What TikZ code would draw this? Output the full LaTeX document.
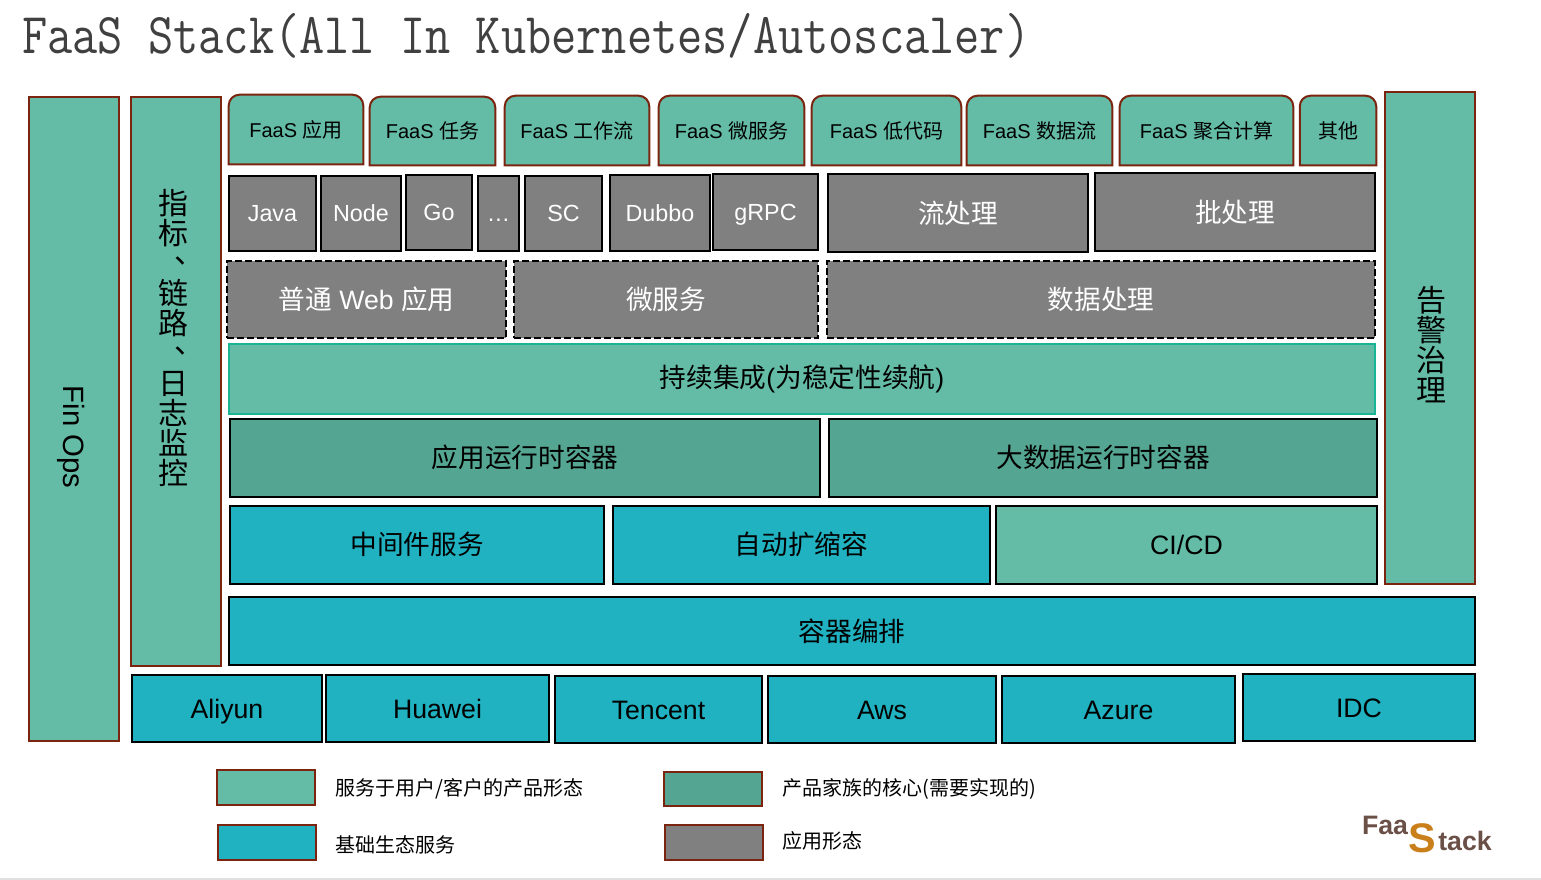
\documentclass[tikz,border=0pt]{standalone}
\usepackage{fontspec}
\setmainfont{Liberation Sans}
\newfontfamily\cjk{Noto Sans CJK SC}
\usetikzlibrary{backgrounds}
\definecolor{svcgreen}{HTML}{64BCA6}
\definecolor{coregreen}{HTML}{54A591}
\definecolor{infrablue}{HTML}{20B2C1}
\definecolor{appgray}{HTML}{808080}
\definecolor{edgebrown}{HTML}{7B2510}
\definecolor{edgeteal}{HTML}{1AB394}
\definecolor{titlegray}{HTML}{404040}
\definecolor{logobrown}{HTML}{6B5048}
\definecolor{logoorange}{HTML}{C9801A}
\newcommand{\dunhao}{\makebox[1em][c]{\raisebox{.37em}[0pt][0pt]{\hspace{1.1em}、}}}
\tikzset{
    x=0.75pt, y=-0.75pt,
    wh/.style 2 args={minimum width=(#1-2)*0.75pt, minimum height=(#2-2)*0.75pt},
    block/.style={draw, line width=1.5pt, inner sep=0pt},
    sidebox/.style={block, draw=edgebrown, fill=svcgreen},
    tabtext/.style={inner sep=0pt, font=\fontsize{15}{15}\selectfont},
    tabshape/.style={draw=edgebrown, line width=1.5pt, fill=svcgreen, rounded corners=8pt},
    lang/.style={block, fill=appgray, text=white, text height=16.1pt, text depth=3.5pt, font=\fontsize{17.5}{18}\selectfont},
    scene/.style={block, dash pattern=on 5pt off 2.5pt, fill=appgray, text=white, font=\fontsize{20}{20}\selectfont},
    runtime/.style={block, fill=coregreen, font=\fontsize{20}{20}\selectfont},
    infra/.style={block, fill=infrablue, font=\fontsize{20}{20}\selectfont},
    cloud/.style={infra, text height=18.4pt, text depth=4pt},
    legendbox/.style={block, draw=edgebrown},
    legendtext/.style={anchor=west, inner sep=0pt, font=\fontsize{15}{15}\selectfont\cjk},
    logotext/.style={inner sep=0pt, font=\fontsize{20}{20}\selectfont\bfseries, text=logobrown}
}
\begin{document}
\begin{tikzpicture}
    \useasboundingbox (0,0) rectangle (1541,880);
    \fill[black!12] (0,878) rectangle (1541,880);

    % Titolo
    \node[anchor=west, inner sep=0pt, text=titlegray, yscale=1.18, transform shape, font=\fontsize{36.7}{37}\selectfont\ttfamily] (title) at (22,36) {FaaS Stack(All In Kubernetes/Autoscaler)};

    % Colonne laterali
    \node[sidebox, wh={92}{646}] (finops) at (74,419) {};
    \node[rotate=-90, font=\fontsize{22}{22}\selectfont] (finopstext) at (71,437) {Fin Ops};
    \node[sidebox, wh={92}{571}] (monitor) at (176,381.5) {};
    \node[align=center, inner sep=0pt, font=\fontsize{22.5}{22.5}\selectfont\cjk] (monitortext) at (173,338) {指\\标\\\dunhao\\链\\路\\\dunhao\\日\\志\\监\\控};
    \node[sidebox, wh={92}{494}] (alert) at (1430,338) {};
    \node[align=center, inner sep=0pt, font=\fontsize{22.5}{22.5}\selectfont\cjk] (alerttext) at (1431,345) {告\\警\\治\\理};

    % Forme di prodotto
    \node[tabtext, wh={136}{71}] (tabapp) at (296,129.5) {FaaS {\cjk 应用}};
    \node[tabtext, wh={127}{70}] (tabjob) at (432.5,131) {FaaS {\cjk 任务}};
    \node[tabtext, wh={146}{71}] (tabflow) at (577,130.5) {FaaS {\cjk 工作流}};
    \node[tabtext, wh={147}{71}] (tabmicro) at (731.5,130.5) {FaaS {\cjk 微服务}};
    \node[tabtext, wh={151}{71}] (tabcode) at (886.5,130.5) {FaaS {\cjk 低代码}};
    \node[tabtext, wh={147}{71}] (tabdata) at (1039.5,130.5) {FaaS {\cjk 数据流}};
    \node[tabtext, wh={175}{71}] (tabcalc) at (1206.5,130.5) {FaaS {\cjk 聚合计算}};
    \node[tabtext, wh={78}{71}] (tabother) at (1338,130.5) {\cjk 其他};
    \begin{scope}[on background layer]
        \foreach \n in {tabapp,tabjob,tabflow,tabmicro,tabcode,tabdata,tabcalc,tabother}
            \draw[tabshape] (\n.south west) -- (\n.north west) -- (\n.north east) [sharp corners] -- (\n.south east) -- cycle;
    \end{scope}

    % Linguaggi e framework
    \node[lang, wh={89}{77}] (java) at (272.5,213.5) {Java};
    \node[lang, wh={82}{77}] (nodejs) at (361,213.5) {Node};
    \node[lang, wh={68}{77}] (golang) at (439,212.5) {Go};
    \node[lang, wh={43}{77}] (more) at (498.5,213.5) {…};
    \node[lang, wh={79}{77}] (sc) at (563.5,213.5) {SC};
    \node[lang, wh={102}{78}] (dubbo) at (660,213) {Dubbo};
    \node[lang, wh={107}{78}] (grpc) at (765.5,212) {gRPC};
    \node[block, fill=appgray, text=white, wh={262}{80}, font=\fontsize{20}{20}\selectfont\cjk] (stream) at (958,213) {流处理};
    \node[block, fill=appgray, text=white, wh={282}{80}, font=\fontsize{20}{20}\selectfont\cjk] (batch) at (1235,212) {批处理};

    % Scenari
    \node[scene, wh={281}{79}] (webapp) at (366.5,299.5) {{\cjk 普通} Web {\cjk 应用}};
    \node[scene, wh={306}{79}, font=\fontsize{20}{20}\selectfont\cjk] (microsvc) at (666,299.5) {微服务};
    \node[scene, wh={550}{79}, font=\fontsize{20}{20}\selectfont\cjk] (dataproc) at (1101,299.5) {数据处理};

    % Integrazione continua
    \node[block, draw=edgeteal, fill=svcgreen, wh={1148}{71}, font=\fontsize{20}{20}\selectfont] (ci) at (802,379) {{\cjk 持续集成}({\cjk 为稳定性续航})};

    % Container di runtime
    \node[runtime, wh={592}{80}, font=\fontsize{20}{20}\selectfont\cjk] (apprt) at (525,457.5) {应用运行时容器};
    \node[runtime, wh={550}{80}, font=\fontsize{20}{20}\selectfont\cjk] (bigdatart) at (1103,457.5) {大数据运行时容器};

    % Servizi di base
    \node[infra, wh={376}{80}, font=\fontsize{20}{20}\selectfont\cjk] (middleware) at (417,544.5) {中间件服务};
    \node[infra, wh={379}{80}, font=\fontsize{20}{20}\selectfont\cjk] (autoscale) at (801.5,544.5) {自动扩缩容};
    \node[block, fill=svcgreen, wh={383}{80}, font=\fontsize{20}{20}\selectfont] (cicd) at (1186.5,544.5) {CI/CD};
    \node[infra, wh={1248}{70}, font=\fontsize{20}{20}\selectfont\cjk] (orchestr) at (852,631) {容器编排};

    % Cloud
    \node[cloud, wh={192}{69}] (aliyun) at (227,708.5) {Aliyun};
    \node[cloud, wh={225}{69}] (huawei) at (437.5,708.5) {Huawei};
    \node[cloud, wh={209}{69}] (tencent) at (658.5,709.5) {Tencent};
    \node[cloud, wh={230}{69}] (aws) at (882,709.5) {Aws};
    \node[cloud, wh={235}{69}] (azure) at (1118.5,709.5) {Azure};
    \node[cloud, wh={234}{69}] (idc) at (1359,707.5) {IDC};

    % Legenda
    \node[legendbox, fill=svcgreen, wh={100}{37}] (keysvc) at (266,787.5) {};
    \node[legendtext] (keysvctext) at (335,789) {服务于用户/客户的产品形态};
    \node[legendbox, fill=coregreen, wh={100}{36}] (keycore) at (713,789) {};
    \node[legendtext] (keycoretext) at (782,789) {产品家族的核心(需要实现的)};
    \node[legendbox, fill=infrablue, wh={100}{37}] (keyinfra) at (267,842.5) {};
    \node[legendtext] (keyinfratext) at (335,845) {基础生态服务};
    \node[legendbox, fill=appgray, wh={100}{37}] (keyapp) at (714,842.5) {};
    \node[legendtext] (keyapptext) at (782,841) {应用形态};

    % Logo
    \node[logotext] (logofaa) at (1385,825) {Faa};
    \node[logotext, text=logoorange, font=\fontsize{31}{31}\selectfont\bfseries] (logos) at (1422,838) {S};
    \node[logotext] (logotack) at (1465,841) {tack};
\end{tikzpicture}
\end{document}
